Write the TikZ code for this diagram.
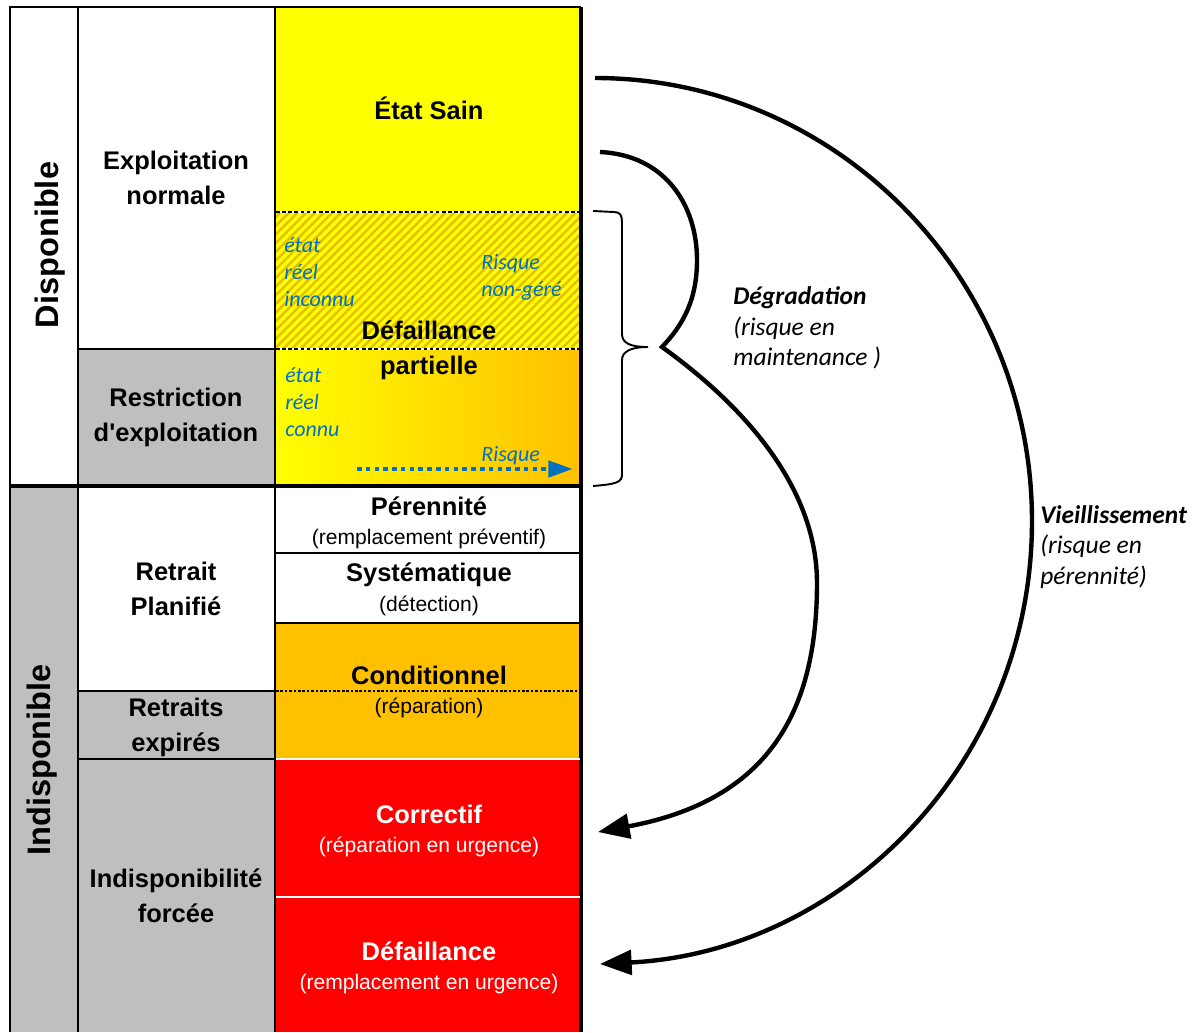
\documentclass[tikz,border=0pt]{standalone}
\usepackage{fontspec}
\setmainfont{Liberation Sans}
\newfontfamily\calibri{Carlito}
\usetikzlibrary{arrows.meta,patterns.meta}

\definecolor{jaune}{HTML}{FFFF00}
\definecolor{ambre}{HTML}{FFC000}
\definecolor{rouge}{HTML}{FF0000}
\definecolor{gris}{HTML}{BFBFBF}
\definecolor{bleu}{HTML}{0070C0}
\definecolor{hachure}{HTML}{E6BE00}

\tikzset{
  titre/.style={font=\fontsize{14.5}{20}\selectfont\bfseries, align=center},
  detail/.style={font=\fontsize{12}{15}\selectfont, align=center},
  etat/.style={font=\calibri\itshape\fontsize{12.5}{15.5}\selectfont, text=bleu, align=left, anchor=west, inner sep=0pt},
  grand/.style={font=\fontsize{18.5}{22}\selectfont\bfseries, rotate=90},
  note/.style={font=\calibri\itshape\fontsize{14.5}{17.5}\selectfont, align=left, anchor=west, inner sep=0pt},
  fleche/.style={line width=2.5pt, -{Triangle[length=18pt,width=14pt]}},
}

\begin{document}
\begin{tikzpicture}[x=0.02cm, y=-0.02cm]
\useasboundingbox (0,0) rectangle (1201,1032);

        % Fill the cells
        \fill[gris] (10,486) rectangle (78,1032);
        \fill[gris] (78,349) rectangle (275,486);
        \fill[gris] (78,691) rectangle (275,1032);
        \fill[jaune] (275,7) rectangle (581,349);
        \fill[pattern={Lines[angle=45,distance=3.5pt,line width=1.4pt]}, pattern color=hachure] (275,212) rectangle (581,349);
        \shade[left color=jaune, right color=ambre] (275,349) rectangle (581,486);
        \fill[ambre] (275,623) rectangle (581,759);
        \fill[rouge] (275,759) rectangle (581,1032);

        % Draw the grid
        \draw[line width=1.7pt] (10,1032) -- (10,7) -- (581,7);
        \draw[line width=1.4pt] (78,7) -- (78,1032);
        \draw[line width=1.2pt] (275,7) -- (275,1032);
        \draw[line width=2.3pt] (581,7) -- (581,1032);
        \draw[line width=2.6pt] (10,486) -- (582,486);
        \draw[line width=1.2pt] (78,349) -- (275,349);
        \draw[line width=1.2pt] (78,691) -- (275,691) (78,759) -- (275,759);
        \draw[line width=1.2pt] (275,553) -- (581,553) (275,623) -- (581,623);
        \draw[white, line width=1.2pt] (276,759) -- (580,759) (276,897) -- (580,897);

        % Dashed separations
        \draw[white, line width=1pt] (276,212) -- (580,212) (276,349) -- (580,349);
        \draw[line width=0.7pt, dash pattern=on 2pt off 1.5pt] (276,212) -- (580,212) (276,349) -- (580,349);
        \draw[line width=0.6pt, dash pattern=on 1.5pt off 1pt] (276,691) -- (580,691);

        % Left columns
        \node[grand] (dispo) at (50,245) {Disponible};
        \node[grand] (indispo) at (42,760) {Indisponible};
        \node[titre] (normale) at (176,178) {Exploitation\\normale};
        \node[titre] (restriction) at (176,417) {Restriction\\d\textquotesingle exploitation};
        \node[titre] (planifie) at (176,589) {Retrait\\Planifié};
        \node[titre] (expires) at (176,727) {Retraits\\expirés};
        \node[titre] (forcee) at (176,896) {Indisponibilité\\forcée};

        % States of the equipment
        \node[titre] (sain) at (429,108) {État Sain};
        \node[titre] (partielle) at (429,350) {Défaillance\\partielle};
        \node[etat] (inconnu) at (284,272) {état\\réel\\inconnu};
        \node[etat] (nongere) at (481,277) {Risque\\non-géré};
        \node[etat] (connu) at (285,402) {état\\réel\\connu};
        \node[etat] (risque) at (481,456) {Risque};
        \coordinate (risque debut) at (357,469);
        \coordinate (risque fin) at (573,469);
        \draw[bleu, line width=2.8pt, dash pattern=on 2.6pt off 2.4pt, -{Triangle[length=14pt,width=9pt]}] (risque debut) -- (risque fin);

        % Maintenance types
        \node[titre] (perennite) at (429,506) {Pérennité};
        \node[detail] (preventif) at (429,539) {(remplacement préventif)};
        \node[titre] (systematique) at (429,575) {Systématique};
        \node[detail] (detection) at (429,606) {(détection)};
        \node[titre] (conditionnel) at (429,675) {Conditionnel};
        \node[detail] (reparation) at (429,708) {(réparation)};
        \node[titre, text=white] (correctif) at (429,814) {Correctif};
        \node[detail, text=white] (urgence) at (429,847) {(réparation en urgence)};
        \node[titre, text=white] (defaillance) at (429,951) {Défaillance};
        \node[detail, text=white] (remplacement) at (429,984) {(remplacement en urgence)};

        % Brace over the partial failure
        \draw[line width=1.1pt] (593,211) -- (614,212) .. controls (620,212) and (622,215) .. (622,222) -- (622,334)
              .. controls (622,343) and (630,347) .. (648,347) .. controls (630,347) and (622,352) .. (622,360)
              -- (622,474) .. controls (622,482) and (618,484) .. (593,486);

        % Degradation arrow
        \coordinate (degr debut) at (600,152);
        \coordinate (degr pointe) at (662,347);
        \coordinate (degr fin) at (598,832);
        \draw[fleche] (degr debut) .. controls (665,155) and (697,205) .. (697,260)
              .. controls (697,300) and (683,325) .. (degr pointe)
              .. controls (715,385) and (817,470) .. (817,583)
              .. controls (817,710) and (770,800) .. (degr fin);
        \node[note] (degradation) at (733,328) {{\bfseries Dégradation}\\(risque en\\maintenance )};

        % Ageing arrow
        \coordinate (vieil debut) at (595,78);
        \coordinate (vieil fin) at (600,964);
        \draw[fleche] (vieil debut) .. controls (835,78) and (1032,276) .. (1032,521)
              .. controls (1032,766) and (840,952) .. (vieil fin);
        \node[note] (vieillissement) at (1040,547) {{\bfseries Vieillissement}\\(risque en\\pérennité)};

\end{tikzpicture}
\end{document}
